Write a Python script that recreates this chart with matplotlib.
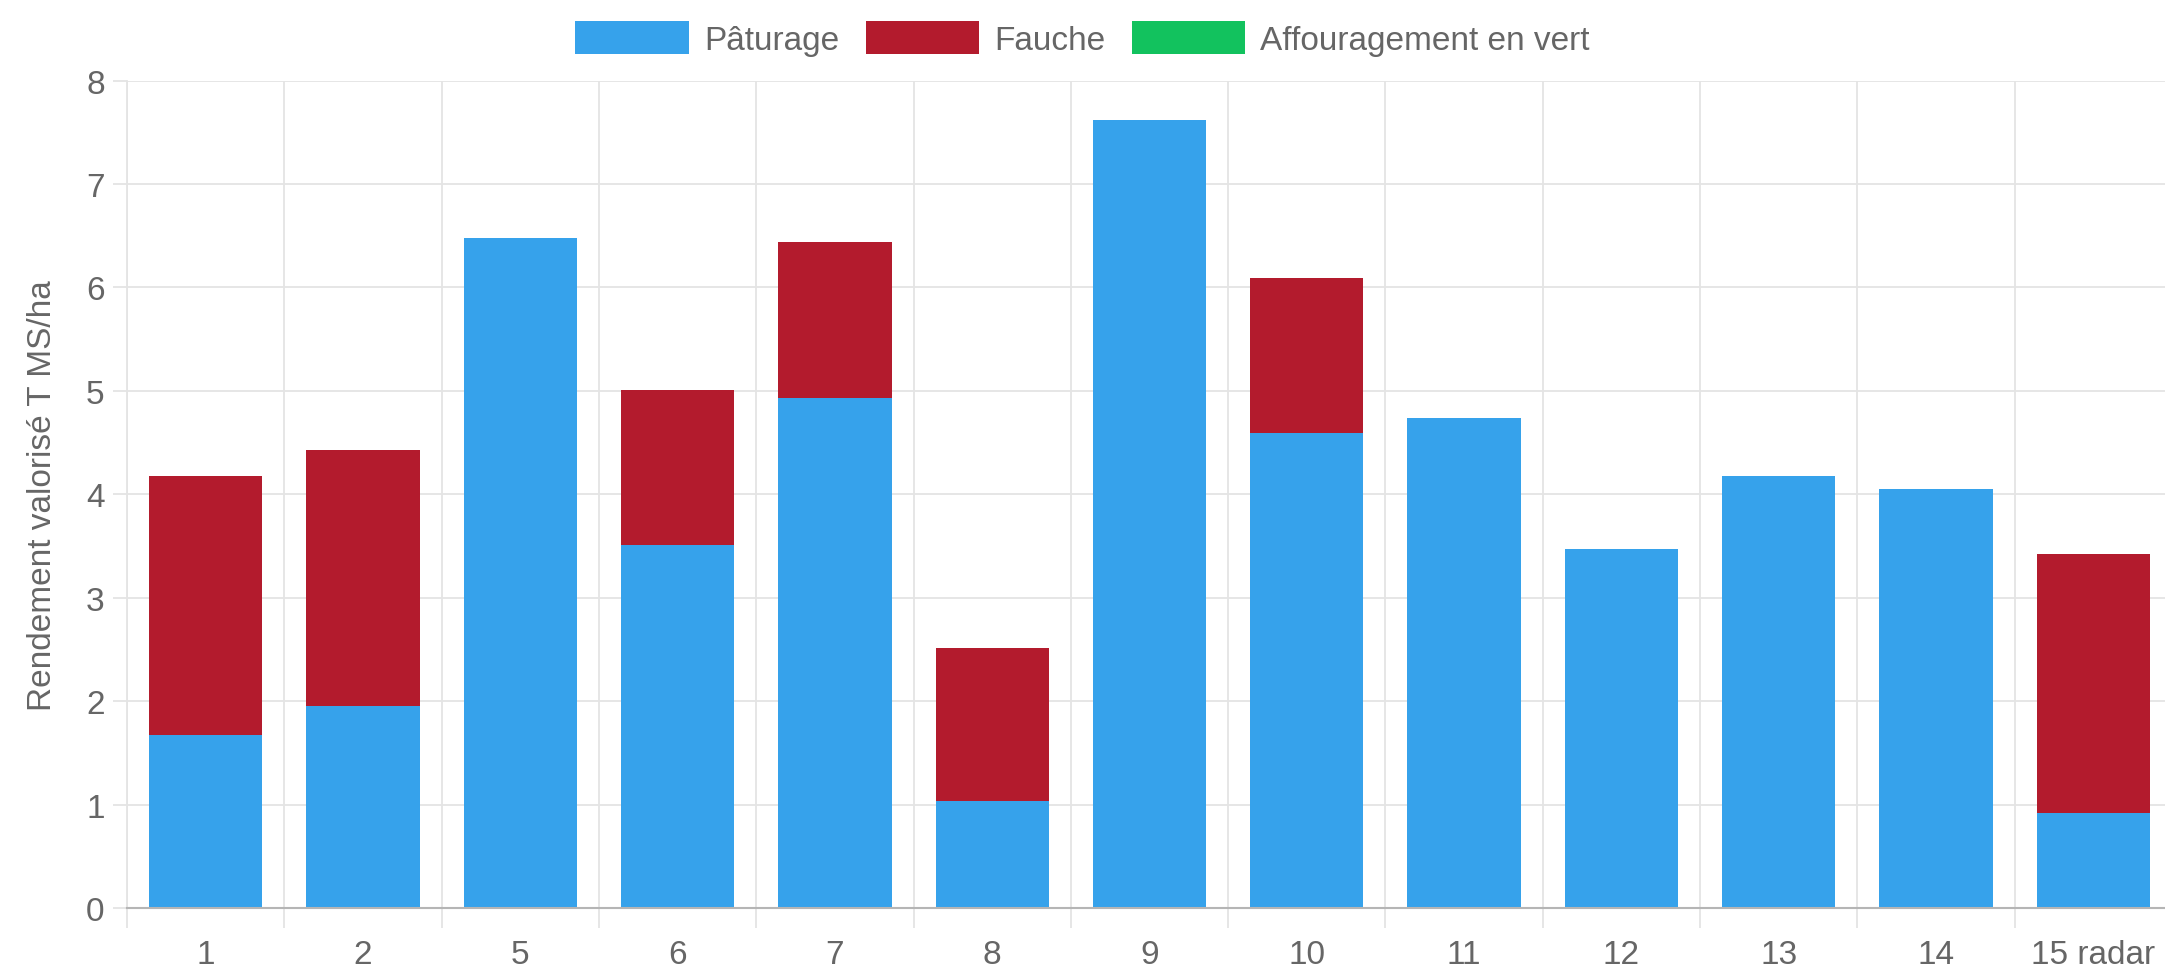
import matplotlib.pyplot as plt
import numpy as np

# valeurs
parcelles = ["1", "2", "5", "6", "7", "8", "9", "10", "11", "12", "13", "14", "15 radar"]
paturage = [1.67, 1.95, 6.48, 3.51, 4.93, 1.03, 7.62, 4.59, 4.74, 3.47, 4.18, 4.05, 0.92]
fauche = [2.51, 2.48, 0, 1.50, 1.51, 1.48, 0, 1.50, 0, 0, 0, 0, 2.50]
affouragement = [0] * 13

plt.rcParams['font.family'] = ['Liberation Sans', 'DejaVu Sans']

fig = plt.figure(figsize=(21.65, 9.7), dpi=100)
ax = fig.add_axes([127 / 2165, 1 - 909 / 970, (2172 - 127) / 2165, (909 - 81.5) / 970])

x = np.arange(len(parcelles))
w = 0.72
ax.bar(x, paturage, w, color="#36a2eb", label="Pâturage", zorder=3)
ax.bar(x, fauche, w, bottom=paturage, color="#b31b2d", label="Fauche", zorder=3)
ax.bar(x, affouragement, w, bottom=np.add(paturage, fauche), color="#12c25e",
       label="Affouragement en vert", zorder=3)

ax.set_xlim(-0.5, len(parcelles) - 0.5)
ax.set_ylim(0, 8)
ax.set_yticks(range(0, 9))
ax.set_xticks(x)
ax.set_xticklabels(parcelles)
ax.set_xticks(np.arange(-0.5, len(parcelles), 1), minor=True)

grid_col = "#e4e4e4"
ax.grid(True, axis="y", color=grid_col, lw=1.3, zorder=0)
ax.grid(True, axis="x", which="minor", color=grid_col, lw=1.3, zorder=0)
ax.tick_params(axis="x", which="major", length=0, pad=22, labelsize=24, labelcolor="#666666")
ax.tick_params(axis="x", which="minor", length=20 * 0.72, color=grid_col, width=1.3)
ax.tick_params(axis="y", length=14 * 0.72, color=grid_col, width=1.3, pad=6,
               labelsize=24, labelcolor="#666666")

for s in ["top", "right"]:
    ax.spines[s].set_visible(False)
ax.spines["left"].set_color(grid_col)
ax.spines["left"].set_linewidth(1.3)
ax.spines["bottom"].set_color("#b5b5b5")
ax.spines["bottom"].set_linewidth(1.5)
ax.spines["bottom"].set_zorder(4)

ax.set_ylabel("Rendement valorisé T MS/ha", fontsize=24, color="#666666", labelpad=20)

fig.legend(loc="upper center", bbox_to_anchor=(0.5, 1.008), ncol=3, frameon=False,
           fontsize=24, labelcolor="#666666", handlelength=3.4, handleheight=1.15,
           handletextpad=0.45, columnspacing=0.8)

fig.savefig("out.png", dpi=100)
